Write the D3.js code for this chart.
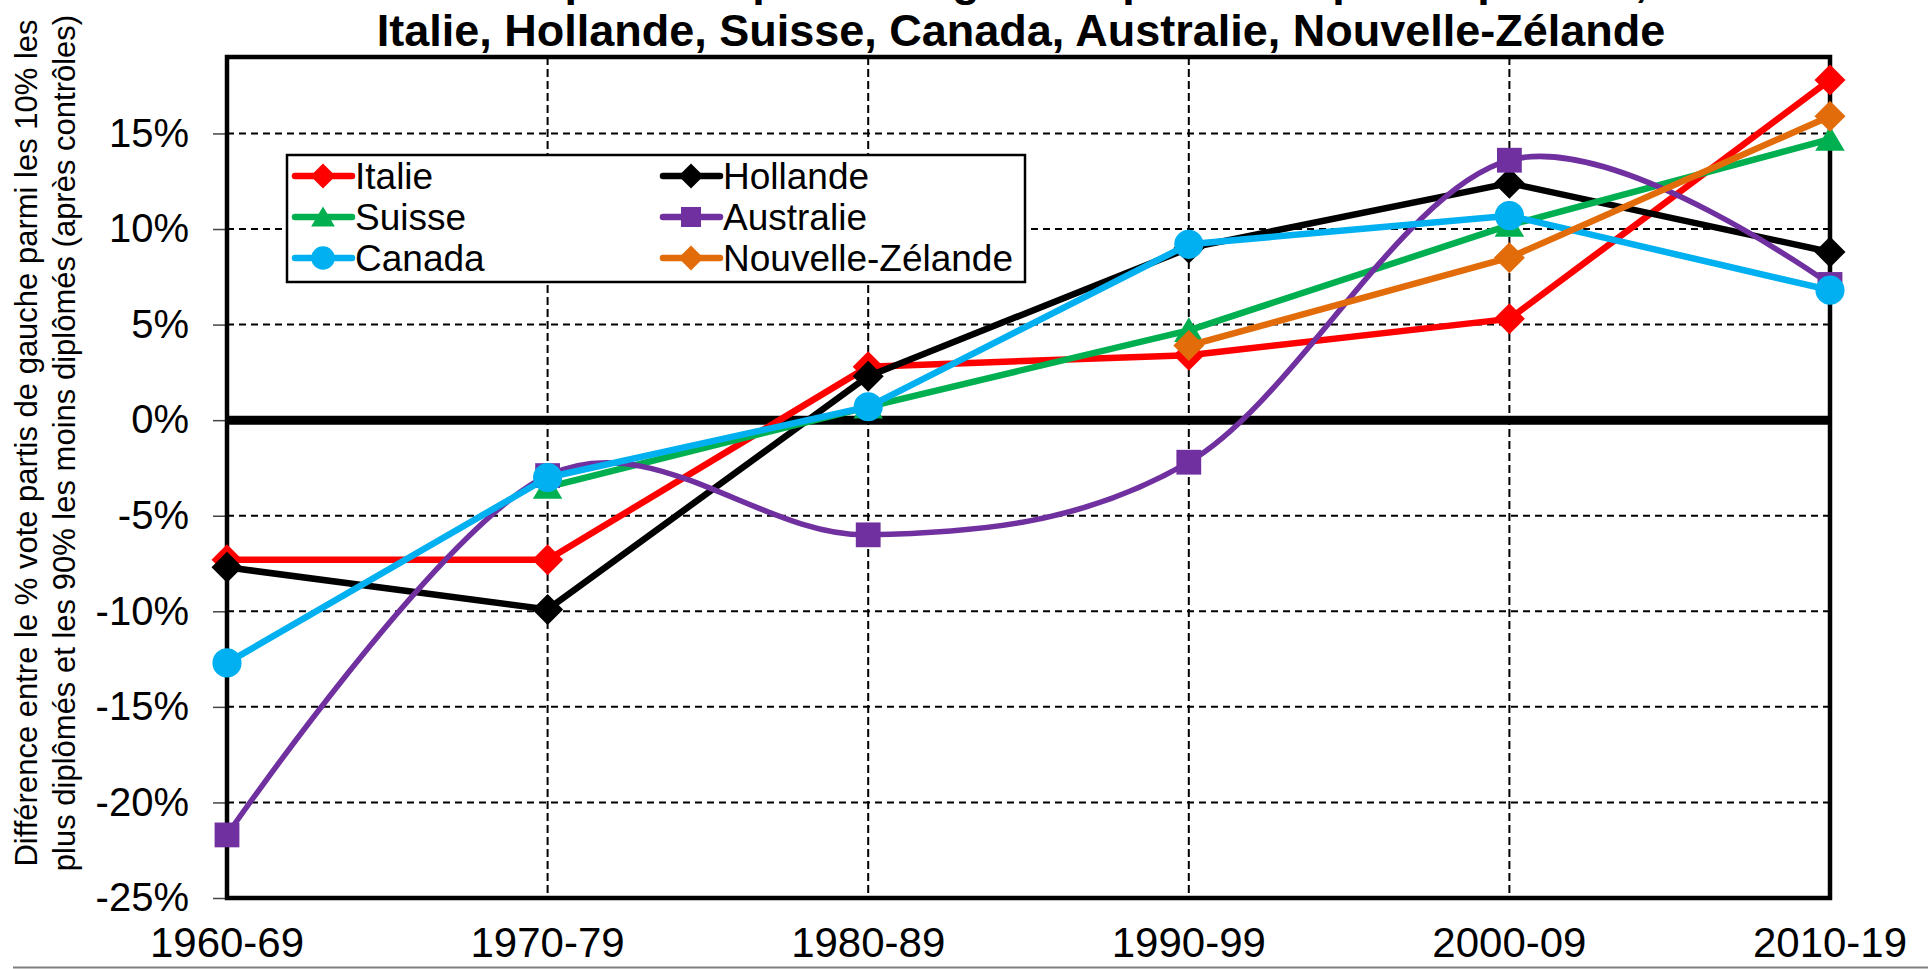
<!DOCTYPE html>
<html>
<head>
<meta charset="utf-8">
<script src="https://cdn.jsdelivr.net/npm/d3@7"></script>
<style>
  body { margin: 0; background: #fff; }
  svg { display: block; font-family: "Liberation Sans", Arial, sans-serif; }
</style>
</head>
<body>
<div id="chart"></div>
<script>
var width = 1928;
var height = 969;

// data, in %
var periods = ["1960-69", "1970-79", "1980-89", "1990-99", "2000-09", "2010-19"];
var italie = [-7.3, -7.3, 2.8, 3.4, 5.3, 17.8];
var hollande = [-7.7, -9.9, 2.3, 9.0, 12.4, 8.8];
var suisse = [null, -3.5, 0.7, 4.7, 10.2, 14.7];
var australie = [-21.7, -2.9, -6.0, -2.2, 13.6, 7.1];
var canada = [-12.7, -3.0, 0.7, 9.2, 10.7, 6.8];
var nouvelleZelande = [null, null, null, 3.9, 8.5, 15.9];
var yTicks = [-25, -20, -15, -10, -5, 0, 5, 10, 15];

var series = [
    { name: "Italie", values: italie, color: "#ff0000", marker: "diamond", smooth: false },
    { name: "Hollande", values: hollande, color: "#000000", marker: "diamond", smooth: false },
    { name: "Suisse", values: suisse, color: "#00b050", marker: "triangle", smooth: false },
    { name: "Australie", values: australie, color: "#7030a0", marker: "square", smooth: true },
    { name: "Canada", values: canada, color: "#00b0f0", marker: "circle", smooth: false },
    { name: "Nouvelle-Zélande", values: nouvelleZelande, color: "#e36c0a", marker: "diamond", smooth: false }
];

var svg = d3.select("#chart").append("svg")
    .attr("width", width)
    .attr("height", height);

svg.append("rect").attr("width", width).attr("height", height).attr("fill", "#fff");

var x = d3.scalePoint().domain(periods).range([227, 1830]);
var y = d3.scaleLinear().domain([-25, 19]).range([898, 57]);

// grid
svg.append("g").selectAll("line")
    .data(yTicks.filter(function (d) { return d !== 0; }))
    .enter().append("line")
    .attr("x1", 227).attr("x2", 1830)
    .attr("y1", function (d) { return y(d); })
    .attr("y2", function (d) { return y(d); })
    .attr("stroke", "#000").attr("stroke-width", 2)
    .attr("stroke-dasharray", "7,5");

svg.append("g").selectAll("line")
    .data(periods.slice(1, -1))
    .enter().append("line")
    .attr("x1", function (d) { return x(d); })
    .attr("x2", function (d) { return x(d); })
    .attr("y1", 57).attr("y2", 898)
    .attr("stroke", "#000").attr("stroke-width", 2)
    .attr("stroke-dasharray", "8,4");

// y axis
var yAxis = svg.append("g")
    .attr("transform", "translate(227,0)")
    .call(d3.axisLeft(y).tickValues(yTicks).tickSize(14).tickPadding(24)
        .tickFormat(function (d) { return d + "%"; }));
yAxis.select(".domain").remove();
yAxis.selectAll(".tick line").attr("stroke", "#444").attr("stroke-width", 1.5);
yAxis.selectAll("text").attr("font-size", 40).attr("fill", "#000")
    .attr("font-family", "Liberation Sans, Arial, sans-serif");

// x labels
svg.append("g").selectAll("text")
    .data(periods)
    .enter().append("text")
    .attr("x", function (d) { return x(d); })
    .attr("y", 957)
    .attr("text-anchor", "middle")
    .attr("font-size", 42)
    .text(function (d) { return d; });

// frame
svg.append("rect")
    .attr("x", 227).attr("y", 57).attr("width", 1830 - 227).attr("height", 898 - 57)
    .attr("fill", "none").attr("stroke", "#000").attr("stroke-width", 4.5);

// zero line
svg.append("line")
    .attr("x1", 227).attr("x2", 1830)
    .attr("y1", y(0)).attr("y2", y(0))
    .attr("stroke", "#000").attr("stroke-width", 9);

function markerPath(type, s) {
    var h = s / 2;
    if (type === "diamond") return "M0," + (-h) + "L" + h + ",0L0," + h + "L" + (-h) + ",0Z";
    if (type === "square") return "M" + (-h * 0.8) + "," + (-h * 0.8) + "h" + (s * 0.8) + "v" + (s * 0.8) + "h" + (-s * 0.8) + "Z";
    return "M0," + (-h * 0.85) + "L" + (h * 0.95) + "," + (h * 0.75) + "L" + (-h * 0.95) + "," + (h * 0.75) + "Z";
}

function drawMarker(g, type, color, cx, cy, s) {
    if (type === "circle") {
        g.append("ellipse").attr("cx", cx).attr("cy", cy)
            .attr("rx", s * 0.47).attr("ry", s * 0.47).attr("fill", color);
    } else {
        g.append("path").attr("d", markerPath(type, s))
            .attr("transform", "translate(" + cx + "," + cy + ")")
            .attr("fill", color);
    }
}

// series
series.forEach(function (s) {
    var pts = s.values.map(function (v, i) { return { p: periods[i], v: v }; })
        .filter(function (d) { return d.v !== null; });
    var line = d3.line()
        .x(function (d) { return x(d.p); })
        .y(function (d) { return y(d.v); })
        .curve(s.smooth ? d3.curveCardinal.tension(0) : d3.curveLinear);
    var g = svg.append("g");
    g.append("path")
        .attr("d", line(pts))
        .attr("fill", "none")
        .attr("stroke", s.color)
        .attr("stroke-width", s.smooth ? 5.5 : 6.5)
        .attr("stroke-linejoin", "round");
    pts.forEach(function (d) {
        drawMarker(g, s.marker, s.color, x(d.p), y(d.v), 31);
    });
});

// legend
var legend = svg.append("g");
legend.append("rect")
    .attr("x", 287).attr("y", 155).attr("width", 738).attr("height", 127)
    .attr("fill", "#fff").attr("stroke", "#000").attr("stroke-width", 2.5);
var legendCols = [295, 663];
var legendRows = [176, 217, 258];
series.forEach(function (s, i) {
    var lx = legendCols[i % 2];
    var ly = legendRows[Math.floor(i / 2)];
    legend.append("line")
        .attr("x1", lx).attr("x2", lx + 57)
        .attr("y1", ly).attr("y2", ly)
        .attr("stroke", s.color).attr("stroke-width", 6.5).attr("stroke-linecap", "round");
    drawMarker(legend, s.marker, s.color, lx + 28, ly, 25);
    legend.append("text")
        .attr("x", lx + 60).attr("y", ly + 13)
        .attr("font-size", 37)
        .text(s.name);
});

// y label
var yLabel = svg.append("text")
    .attr("transform", "translate(37,443) rotate(-90)")
    .attr("text-anchor", "middle")
    .attr("font-size", 31);
yLabel.append("tspan").attr("x", 0).attr("y", 0)
    .text("Différence entre le % vote partis de gauche parmi les 10% les");
yLabel.append("tspan").attr("x", 0).attr("y", 38)
    .text("plus diplômés et les 90% les moins diplômés (après contrôles)");

// title (first line is cut off at the top of the picture)
svg.append("text")
    .attr("x", 1021).attr("y", -4)
    .attr("text-anchor", "middle")
    .attr("font-size", 45).attr("font-weight", "bold")
    .text("Le vote pour les partis de gauche parmi les plus diplômés,");
svg.append("text")
    .attr("x", 1021).attr("y", 46)
    .attr("text-anchor", "middle")
    .attr("font-size", 45).attr("font-weight", "bold")
    .text("Italie, Hollande, Suisse, Canada, Australie, Nouvelle-Zélande");

// bottom border line of the picture
svg.append("line")
    .attr("x1", 13).attr("x2", width)
    .attr("y1", 967.5).attr("y2", 967.5)
    .attr("stroke", "#808080").attr("stroke-width", 2);
</script>
</body>
</html>
